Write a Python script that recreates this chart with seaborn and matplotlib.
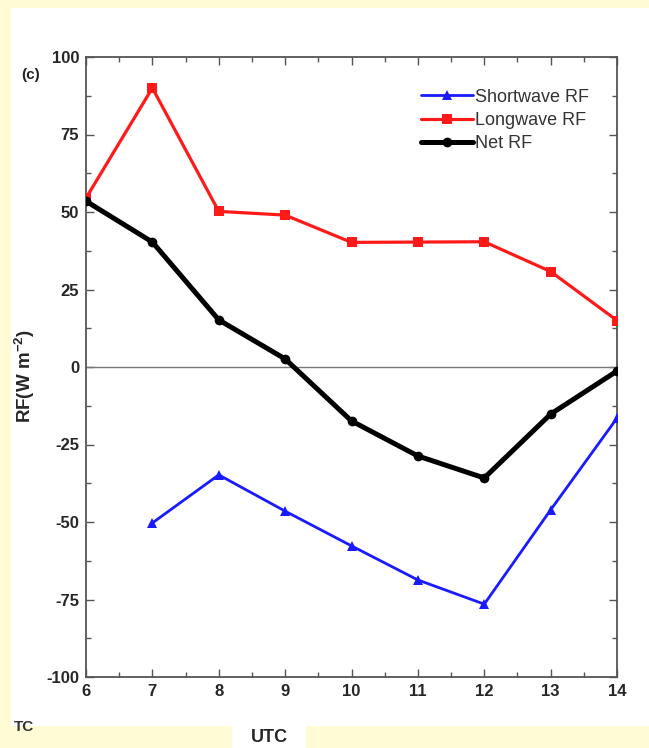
import matplotlib
matplotlib.use("Agg")
import matplotlib.pyplot as plt
from matplotlib.patches import Rectangle
from matplotlib.ticker import MultipleLocator
import pandas as pd
import seaborn as sns

hours = [6, 7, 8, 9, 10, 11, 12, 13, 14]
shortwave = [None, -50.3, -34.8, -46.5, -57.7, -68.7, -76.5, -46.1, -16.5]
longwave = [54.5, 90.0, 50.2, 49.0, 40.2, 40.3, 40.4, 30.8, 15.0]
net = [53.5, 40.3, 15.2, 2.6, -17.4, -28.7, -35.8, -15.2, -1.3]

series_names = ["Shortwave RF", "Longwave RF", "Net RF"]
colors = {"Shortwave RF": "#1a1aff", "Longwave RF": "#ff1a1a", "Net RF": "#000000"}
markers = {"Shortwave RF": "^", "Longwave RF": "s", "Net RF": "o"}
widths = {"Shortwave RF": 2.0, "Longwave RF": 2.3, "Net RF": 3.6}

df = pd.DataFrame({"UTC": hours, "Shortwave RF": shortwave,
                   "Longwave RF": longwave, "Net RF": net})
long_df = df.melt(id_vars="UTC", var_name="series", value_name="RF").dropna()

sns.set_style("ticks")
plt.rcParams["font.family"] = ["Liberation Sans", "DejaVu Sans"]
plt.rcParams["axes.unicode_minus"] = False

fig = plt.figure(figsize=(6.49, 7.48), dpi=100, facecolor="#fffbd5")
# white panel inside the yellow frame
fig.patches.append(Rectangle((11 / 649, 22 / 748), 1 - 11 / 649, (726 - 8) / 748,
                             transform=fig.transFigure, facecolor="white",
                             edgecolor="none", zorder=-5))
fig.patches.append(Rectangle((232 / 649, 0), 74 / 649, 22 / 748,
                             transform=fig.transFigure, facecolor="white",
                             edgecolor="none", zorder=-5))

ax = fig.add_axes([86 / 649, 71 / 748, 531 / 649, 620 / 748])
ax.set_facecolor("white")
ax.axhline(0, color="#777777", lw=1.0, zorder=1)

for name in series_names:
    sub = long_df[long_df["series"] == name]
    sns.lineplot(data=sub, x="UTC", y="RF", color=colors[name],
                 marker=markers[name], markersize=7, markeredgewidth=0,
                 lw=widths[name], label=name, ax=ax, zorder=3)

ax.set_xlim(6, 14)
ax.set_ylim(-100, 100)
ax.xaxis.set_major_locator(MultipleLocator(1))
ax.xaxis.set_minor_locator(MultipleLocator(0.5))
ax.yaxis.set_major_locator(MultipleLocator(25))
ax.yaxis.set_minor_locator(MultipleLocator(12.5))
ax.tick_params(which="both", direction="in", top=True, right=True,
               color="#555555", labelsize=12, pad=5)
ax.tick_params(which="major", length=6, width=1.0)
ax.tick_params(which="minor", length=3.5, width=1.0)
for lab in ax.get_xticklabels() + ax.get_yticklabels():
    lab.set_fontweight("bold")
for sp in ax.spines.values():
    sp.set_visible(True)
    sp.set_color("#555555")
    sp.set_linewidth(1.3)

ax.set_xlabel("")
ax.set_ylabel("")
fig.text(269 / 649, 11 / 748, "UTC", ha="center", va="center",
         fontsize=13, fontweight="bold")
fig.text(25 / 649, (748 - 376) / 748, r"RF(W m$^{\mathregular{-2}}$)", rotation=90,
         ha="center", va="center", fontsize=13.5, fontweight="bold")
fig.text(31 / 649, 673 / 748, "(c)", ha="center", va="center",
         fontsize=11, fontweight="bold")
fig.text(14 / 649, 21 / 748, "TC", ha="left", va="center",
         fontsize=11, fontweight="bold", color="#333333")

ax.legend(loc="upper left", bbox_to_anchor=(0.6, 0.975), frameon=False,
          fontsize=13, handlelength=2.9, handletextpad=0.1, labelspacing=0.35,
          labelcolor="#333333")

fig.savefig("out.png", dpi=100, facecolor=fig.get_facecolor())
